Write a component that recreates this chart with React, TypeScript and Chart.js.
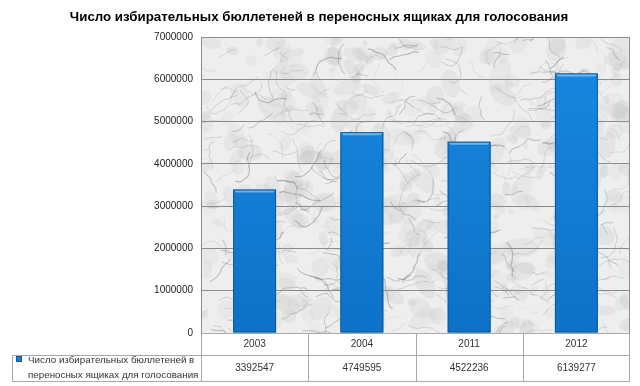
import { useEffect, useRef } from "react";
import { Chart, registerables } from "chart.js";
Chart.register(...registerables);

const categories = ["2003", "2004", "2011", "2012"];
const seriesLabel = "Число избирательных бюллетеней в переносных ящиках для голосования";
const legendLines = ["Число избирательных бюллетеней в", "переносных ящиках для голосования"];
const values = [3392547, 4749595, 4522236, 6139277];
const yMax = 7000000;
const yStep = 1000000;
const titleText = "Число избирательных бюллетеней в переносных ящиках для голосования";

const FONT = "'Liberation Sans', Arial, sans-serif";
const GRID = "#8c8c8c";
const TABLE_LINE = "#a9a9a9";

function makeRng(seed: number) {
  let s = seed >>> 0;
  return () => {
    s = (Math.imul(s, 1664525) + 1013904223) >>> 0;
    return s / 4294967296;
  };
}

const marblePlugin = {
  id: "marble",
  beforeDraw(chart: any) {
    const { ctx, chartArea: a } = chart;
    ctx.save();
    ctx.beginPath();
    ctx.rect(a.left, a.top, a.right - a.left, a.bottom - a.top);
    ctx.clip();
    ctx.fillStyle = "#eeeeee";
    ctx.fillRect(a.left, a.top, a.right - a.left, a.bottom - a.top);
    const rnd = makeRng(12345);
    const w = a.right - a.left;
    const h = a.bottom - a.top;
    for (let i = 0; i < 380; i++) {
      const x = a.left + rnd() * w;
      const y = a.top + rnd() * h;
      const r = 2 + rnd() * 8;
      ctx.fillStyle = `rgba(165,165,165,${0.07 + rnd() * 0.09})`;
      ctx.beginPath();
      ctx.ellipse(x, y, r * (1 + rnd()), r, rnd() * Math.PI, 0, Math.PI * 2);
      ctx.fill();
    }
    for (let i = 0; i < 380; i++) {
      let x = a.left + rnd() * w;
      let y = a.top + rnd() * h;
      let ang = (rnd() - 0.5) * 1.2 + (rnd() < 0.5 ? 0 : Math.PI);
      ctx.strokeStyle = `rgba(105,105,105,${0.15 + rnd() * 0.3})`;
      ctx.lineWidth = 0.4 + rnd() * 0.8;
      ctx.beginPath();
      ctx.moveTo(x, y);
      const steps = 3 + Math.floor(rnd() * 8);
      for (let k = 0; k < steps; k++) {
        ang += (rnd() - 0.5) * 1.4;
        const len = 2 + rnd() * 4;
        x += Math.cos(ang) * len;
        y += Math.sin(ang) * len;
        ctx.lineTo(x, y);
      }
      ctx.stroke();
    }
    ctx.restore();
  },
};

const decoPlugin = {
  id: "deco",
  afterDatasetsDraw(chart: any) {
    const { ctx } = chart;
    const meta = chart.getDatasetMeta(0);
    ctx.save();
    meta.data.forEach((bar: any) => {
      const p = bar.getProps(["x", "y", "base", "width"], true);
      const l = p.x - p.width / 2;
      const r = p.x + p.width / 2;
      ctx.fillStyle = "rgba(120,190,245,0.85)";
      ctx.beginPath();
      ctx.moveTo(l, p.y);
      ctx.lineTo(r, p.y);
      ctx.lineTo(r - 3, p.y + 3);
      ctx.lineTo(l + 3, p.y + 3);
      ctx.closePath();
      ctx.fill();
      ctx.strokeStyle = "#0a5aa0";
      ctx.lineWidth = 1;
      ctx.strokeRect(l + 0.5, p.y + 0.5, p.width - 1, p.base - p.y - 1);
    });
    ctx.restore();
  },
  afterDraw(chart: any) {
    const { ctx, chartArea: a, scales } = chart;
    const x = scales.x;
    ctx.save();
    ctx.fillStyle = "#000";
    ctx.font = `bold 13.3px ${FONT}`;
    ctx.textAlign = "center";
    ctx.textBaseline = "middle";
    ctx.fillText(titleText, 319, 17);

    ctx.strokeStyle = GRID;
    ctx.lineWidth = 1;
    ctx.strokeRect(Math.round(a.left) + 0.5, Math.round(a.top) + 0.5, Math.round(a.right - a.left) - 1, Math.round(a.bottom - a.top));

    const top = Math.round(a.bottom) + 0.5;
    const mid = 355.5;
    const bot = 381.5;
    const leftCell = 12.5;
    ctx.strokeStyle = TABLE_LINE;
    ctx.beginPath();
    ctx.moveTo(a.left, top);
    ctx.lineTo(a.right, top);
    ctx.moveTo(leftCell, mid);
    ctx.lineTo(a.right, mid);
    ctx.moveTo(leftCell, bot);
    ctx.lineTo(a.right, bot);
    ctx.moveTo(leftCell, mid);
    ctx.lineTo(leftCell, bot);
    const n = categories.length;
    const cw = (a.right - a.left) / n;
    for (let i = 0; i <= n; i++) {
      const xx = Math.round(a.left + cw * i) + 0.5 - (i === n ? 1 : 0);
      ctx.moveTo(xx, top);
      ctx.lineTo(xx, bot);
    }
    ctx.stroke();

    ctx.fillStyle = "#333";
    ctx.font = `10px ${FONT}`;
    ctx.textAlign = "center";
    categories.forEach((c, i) => {
      const cx = x.getPixelForValue(i);
      ctx.fillText(c, cx, 344.5);
      ctx.fillText(String(values[i]), cx, 368);
    });
    ctx.fillStyle = "#1a7fd0";
    ctx.fillRect(16, 356, 6, 6);
    ctx.strokeStyle = "#0a5aa0";
    ctx.strokeRect(16.5, 356.5, 5, 5);
    ctx.fillStyle = "#333";
    ctx.textAlign = "left";
    ctx.font = `9.8px ${FONT}`;
    ctx.fillText(legendLines[0], 28, 360);
    ctx.fillText(legendLines[1], 28, 375.5);
    ctx.restore();
  },
};

export default function App() {
  const ref = useRef<HTMLCanvasElement>(null);
  useEffect(() => {
    document.body.style.margin = "0";
    const canvas = ref.current!;
    const chart = new Chart(canvas, {
      type: "bar",
      data: {
        labels: categories,
        datasets: [
          {
            label: seriesLabel,
            data: values,
            backgroundColor: (c: any) => {
              const ch = c.chart;
              const a = ch.chartArea;
              if (!a) return "#1580d8";
              const g = ch.ctx.createLinearGradient(0, a.top, 0, a.bottom);
              g.addColorStop(0, "#1a88e0");
              g.addColorStop(1, "#0d72c8");
              return g;
            },
            borderWidth: 0,
            categoryPercentage: 1,
            barPercentage: 0.4,
          },
        ],
      },
      options: {
        responsive: false,
        animation: false,
        layout: { padding: { top: 37, bottom: 53, left: 0, right: 10 } },
        plugins: { legend: { display: false }, title: { display: false }, tooltip: { enabled: false } },
        scales: {
          x: { display: false, offset: true },
          y: {
            min: 0,
            max: yMax,
            afterFit: (s: any) => {
              s.width = 201;
            },
            ticks: {
              stepSize: yStep,
              color: "#222",
              font: { family: FONT, size: 10 },
              padding: 8,
              callback: (v: any) => String(v),
            },
            grid: { color: GRID, drawTicks: false },
            border: { display: false },
          },
        },
      },
      plugins: [marblePlugin, decoPlugin],
    });
    return () => chart.destroy();
  }, []);
  return <canvas ref={ref} width={640} height={386} style={{ display: "block" }} />;
}
